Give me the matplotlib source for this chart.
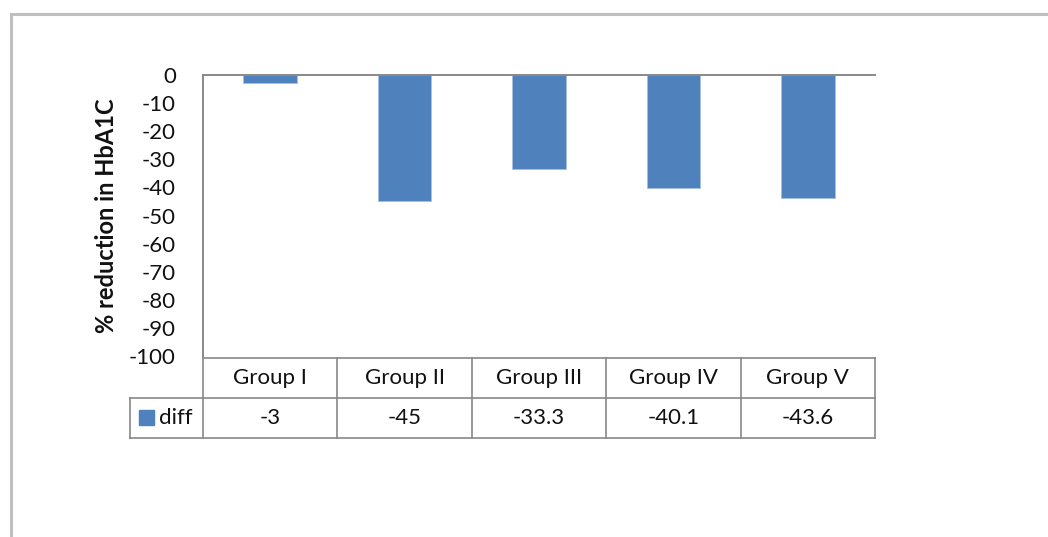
import matplotlib.pyplot as plt
from matplotlib.patches import Rectangle

groups = ["Group I", "Group II", "Group III", "Group IV", "Group V"]
diff = [-3, -45, -33.3, -40.1, -43.6]
diff_labels = ["-3", "-45", "-33.3", "-40.1", "-43.6"]
yticks = list(range(0, -101, -10))

plt.rcParams['font.family'] = ['Lato', 'DejaVu Sans']
W, H = 1048, 537
fig = plt.figure(figsize=(W / 100, H / 100), dpi=100)

def fx(px):
    return px / W

def fy(py):
    return 1 - py / H

# outer frame
fig.patches.append(Rectangle((fx(11), fy(600)), fx(1100), fy(14) - fy(600),
                             transform=fig.transFigure, fill=False,
                             edgecolor='#bfbfbf', linewidth=2.2))

blue = '#4f81bd'
grid_c = '#888888'
txt_c = '#111111'
fs = 16

ax = fig.add_axes([fx(203), fy(356), fx(875) - fx(203), fy(75) - fy(356)])
x = range(len(groups))
ax.bar(x, diff, width=0.4, color=blue, edgecolor='#a7c0df', linewidth=0.6)
ax.set_xlim(-0.5, len(groups) - 0.5)
ax.set_ylim(-100, 0)
ax.set_yticks(yticks)
ax.set_yticklabels([str(v) for v in yticks], fontsize=fs, color=txt_c)
ax.set_xticks([])
ax.tick_params(axis='y', length=0, pad=19.5)
for s in ['right', 'bottom']:
    ax.spines[s].set_visible(False)
for s in ['left', 'top']:
    ax.spines[s].set_color(grid_c)
    ax.spines[s].set_linewidth(1.4)
ax.set_ylabel("% reduction in HbA1C", fontsize=17, fontweight='bold',
              color=txt_c, labelpad=8)

# data table under the plot
leg_w = 73 / 134.4
tab = fig.add_axes([fx(130), fy(438), fx(875) - fx(130), fy(358) - fy(438)])
tab.set_xlim(-0.5 - leg_w, len(groups) - 0.5)
tab.set_ylim(0, 2)
tab.axis('off')
lk = dict(color=grid_c, linewidth=1.2, clip_on=False)
tab.plot([-0.5, len(groups) - 0.5], [2, 2], **lk)
tab.plot([-0.5 - leg_w, len(groups) - 0.5], [1, 1], **lk)
tab.plot([-0.5 - leg_w, len(groups) - 0.5], [0, 0], **lk)
tab.plot([-0.5 - leg_w, -0.5 - leg_w], [0, 1], **lk)
for i in range(len(groups) + 1):
    tab.plot([i - 0.5, i - 0.5], [0, 2], **lk)
for i, g in enumerate(groups):
    tab.text(i, 1.5, g, ha='center', va='center', fontsize=fs, color=txt_c)
    tab.text(i, 0.5, diff_labels[i], ha='center', va='center', fontsize=fs, color=txt_c)
tab.add_patch(Rectangle((-0.5 - leg_w + 0.065, 0.32), 0.11, 0.38, color=blue, clip_on=False))
tab.text(-0.5 - leg_w + 0.215, 0.5, "diff", ha='left', va='center', fontsize=fs, color=txt_c)

fig.savefig("out.png", dpi=100)
